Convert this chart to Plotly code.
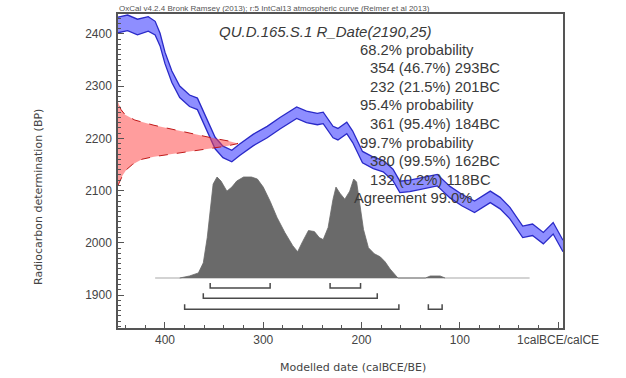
import plotly.graph_objects as go

# IntCal13 calibration curve (calBC years, BP centre, 1-sigma half width)
cal_years = [448, 438, 428, 417, 410, 405, 400, 393, 385, 375, 367, 361, 354, 349, 341, 332,
             324, 310, 296, 283, 266, 256, 245, 239, 229, 224, 215, 209, 199, 188, 178, 168,
             161, 151, 141, 123, 110, 98, 85, 69, 59, 49, 36, 26, 15, 5, -5]
cal_bp = [2417, 2421, 2413, 2419, 2411, 2389, 2354, 2318, 2289, 2272, 2266, 2241, 2212, 2191, 2174, 2166,
          2178, 2197, 2212, 2229, 2249, 2241, 2237, 2239, 2212, 2208, 2220, 2203, 2164, 2153, 2147, 2130,
          2107, 2109, 2113, 2120, 2097, 2082, 2069, 2088, 2076, 2057, 2021, 2025, 2009, 2028, 1994]
cal_sigma = [15, 15, 15, 14, 13, 12, 11, 11, 11, 11, 11, 11, 11, 11, 11, 11,
             11, 11, 11, 11, 11, 11, 11, 11, 11, 11, 11, 11, 11, 11, 11, 11,
             11, 11, 11, 11, 11, 11, 11, 11, 11, 11, 11, 11, 11, 11, 11]

# R_Date(2190,25) measurement distribution (BP, relative probability)
rdate_bp = [2110, 2120, 2130, 2140, 2150, 2160, 2165, 2170, 2175, 2180, 2185, 2190,
            2195, 2200, 2205, 2210, 2215, 2220, 2225, 2235, 2245, 2255, 2270]
rdate_prob = [0.0, 0.02, 0.04, 0.07, 0.12, 0.2, 0.3, 0.45, 0.6, 0.75, 0.9, 1.0,
              0.92, 0.8, 0.7, 0.6, 0.5, 0.4, 0.3, 0.14, 0.06, 0.025, 0.0]

# calibrated distribution (calBC, relative probability)
post_years = [385, 375, 366, 361, 357, 354, 351, 347, 343, 337, 332, 327, 320, 312, 306, 300,
              293, 286, 278, 270, 265, 260, 254, 248, 243, 239, 234, 229, 226, 222, 217, 212,
              208, 205, 201, 198, 193, 187, 181, 176, 171, 167, 163, 135, 130, 120, 115]
post_prob = [0.0, 0.02, 0.05, 0.15, 0.4, 0.7, 0.93, 1.0, 0.96, 0.86, 0.9, 0.96, 1.0, 1.0, 0.98, 0.9,
             0.76, 0.6, 0.45, 0.32, 0.26, 0.36, 0.47, 0.46, 0.4, 0.38, 0.5, 0.78, 0.9, 0.84, 0.78, 0.86,
             0.98, 0.95, 0.7, 0.48, 0.3, 0.24, 0.21, 0.16, 0.09, 0.04, 0.0, 0.0, 0.02, 0.02, 0.0]
post_span = [410, 29]

# highest probability ranges (calBC)
ranges_68 = [(354, 293), (232, 201)]
ranges_95 = [(361, 184)]
ranges_99 = [(380, 162), (132, 118)]

title_text = "QU.D.165.S.1 R_Date(2190,25)"
summary_lines = [
    ("68.2% probability", 0),
    ("354 (46.7%) 293BC", 1),
    ("232 (21.5%) 201BC", 1),
    ("95.4% probability", 0),
    ("361 (95.4%) 184BC", 1),
    ("99.7% probability", 0),
    ("380 (99.5%) 162BC", 1),
    ("132 (0.2%) 118BC", 1),
    ("Agreement 99.0%", -1),
]
header_text = "OxCal v4.2.4 Bronk Ramsey (2013); r:5 IntCal13 atmospheric curve (Reimer et al 2013)"

W, H = 626, 378
L, R, T, B = 118, 63, 14, 50
PW, PH = W - L - R, H - T - B
AX = "#555555"
TXT = "#3a3a3a"

fig = go.Figure()

upper = [c + s for c, s in zip(cal_bp, cal_sigma)]
lower = [c - s for c, s in zip(cal_bp, cal_sigma)]
fig.add_trace(go.Scatter(x=cal_years, y=upper, mode="lines",
                         line=dict(color="#2a2ac8", width=1.3), hoverinfo="skip"))
fig.add_trace(go.Scatter(x=cal_years, y=lower, mode="lines", fill="tonexty",
                         fillcolor="#8e8eff", line=dict(color="#2a2ac8", width=1.3),
                         hoverinfo="skip"))

# baseline of the calibrated distribution
fig.add_trace(go.Scatter(x=post_span, y=[0, 0], yaxis="y2", mode="lines",
                         line=dict(color="#c4c4c4", width=1.5), hoverinfo="skip"))
fig.add_trace(go.Scatter(x=post_years, y=post_prob, yaxis="y2", mode="lines", fill="tozeroy",
                         fillcolor="#6a6a6a", line=dict(color="#6a6a6a", width=0.8),
                         hoverinfo="skip"))

# range brackets
for row, ranges in zip([-0.1, -0.2, -0.31], [ranges_68, ranges_95, ranges_99]):
    bx, by = [], []
    for a, b in ranges:
        bx += [a, a, b, b, None]
        by += [row + 0.05, row, row, row + 0.05, None]
    fig.add_trace(go.Scatter(x=bx, y=by, yaxis="y2", mode="lines",
                             line=dict(color="#4a4a4a", width=1.5), hoverinfo="skip"))

# measurement on the BP axis
fig.add_trace(go.Scatter(x=rdate_prob, y=rdate_bp, xaxis="x2", mode="lines", fill="tozerox",
                         fillcolor="rgba(255,60,60,0.5)",
                         line=dict(color="#c01818", width=1, dash="dash"), hoverinfo="skip"))

tickfont = dict(family="Liberation Sans, Arial", size=12, color="#444444")
fig.update_layout(
    width=W, height=H,
    margin=dict(l=L, r=R, t=T, b=B),
    paper_bgcolor="white", plot_bgcolor="white",
    showlegend=False,
    xaxis=dict(range=[447.8, -5], tickmode="array", tickvals=[400, 300, 200, 100, 0],
               ticktext=["400", "300", "200", "100", "1calBCE/calCE"],
               ticks="inside", ticklen=6, tickwidth=1.2, tickcolor=AX,
               minor=dict(tickmode="linear", tick0=0, dtick=20, ticks="inside", ticklen=3,
                          tickcolor=AX),
               showline=True, linecolor=AX, linewidth=1.5, mirror=True,
               showgrid=False, zeroline=False, tickfont=tickfont),
    yaxis=dict(range=[1837, 2438], tickvals=[1900, 2000, 2100, 2200, 2300, 2400],
               ticks="inside", ticklen=6, tickwidth=1.2, tickcolor=AX,
               minor=dict(tickmode="linear", tick0=0, dtick=10, ticks="inside", ticklen=3,
                          tickcolor=AX),
               showline=True, linecolor=AX, linewidth=1.5, mirror=True,
               showgrid=False, zeroline=False, tickfont=tickfont, ticklabelstandoff=2),
    xaxis2=dict(overlaying="x", range=[0, PW / 120], visible=False, anchor="y"),
    yaxis2=dict(overlaying="y", range=[-50 / 101, (PH - 50) / 101], visible=False, anchor="x"),
)


def px_x(p):
    return (p - L) / PW


def px_y(p):
    return (H - B - p) / PH


fig.add_annotation(text="<i>" + title_text + "</i>", x=px_x(325), y=px_y(32), xref="paper",
                   yref="paper", showarrow=False, xanchor="center", yanchor="middle",
                   font=dict(family="Liberation Sans, Arial", size=15, color=TXT))
indent = {0: 358, 1: 368, -1: 352}
for i, (line, lvl) in enumerate(summary_lines):
    fig.add_annotation(text=line, x=px_x(indent[lvl]), y=px_y(49.5 + 18.6 * i), xref="paper",
                       yref="paper", showarrow=False, xanchor="left", yanchor="middle",
                       font=dict(family="Liberation Sans, Arial", size=14.8, color=TXT))
fig.add_annotation(text=header_text, x=px_x(117), y=px_y(8), xref="paper", yref="paper",
                   showarrow=False, xanchor="left", yanchor="middle",
                   font=dict(family="Liberation Sans, Arial", size=8, color="#555555"))
fig.add_annotation(text="Modelled date (calBCE/BE)", x=px_x(353), y=px_y(367), xref="paper",
                   yref="paper", showarrow=False, xanchor="center", yanchor="middle",
                   font=dict(family="DejaVu Sans", size=11, color="#444444"))
fig.add_annotation(text="Radiocarbon determination (BP)", x=px_x(38), y=px_y(197), xref="paper",
                   yref="paper", showarrow=False, xanchor="center", yanchor="middle",
                   textangle=-90, font=dict(family="DejaVu Sans", size=11, color="#444444"))

# the page's default body margin would push the figure 8px off the window origin
fig.write_html("out.html", config={"displayModeBar": False},
               post_script="document.body.style.margin = '0';")
